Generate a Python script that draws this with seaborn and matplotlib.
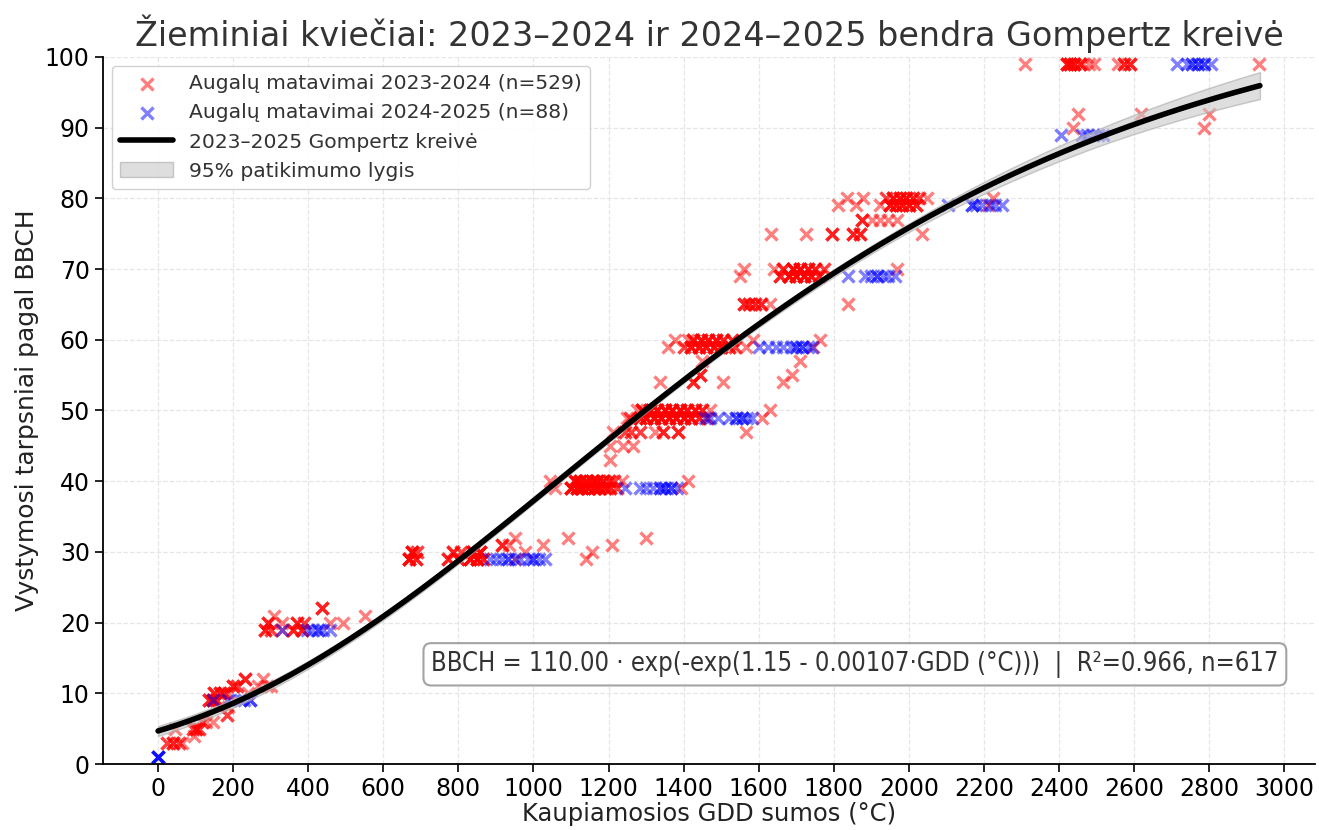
import numpy as np
import pandas as pd
import matplotlib
matplotlib.use("Agg")
import matplotlib.pyplot as plt
import seaborn as sns

# --- 2023-2024 season: GDD (°C), BBCH stage, number of plants with that reading
red_gdd = [25, 40, 55, 65, 45, 95, 92, 100, 108, 118, 128, 147, 183, 186,
           135, 145, 155, 150, 165, 175, 185, 240, 200, 210, 232, 265, 280, 290, 300,
           285, 292, 300, 308, 330, 330, 360, 370, 383, 390, 437, 458, 493, 551,
           668, 676, 686, 690, 772, 785, 798, 808, 832, 840, 850, 858, 865,
           915, 935, 950, 952, 977, 1025, 1092, 1141, 1155, 1208, 1301,
           1043, 1058, 1100, 1110, 1115, 1125, 1130, 1140, 1145, 1155, 1160, 1170,
           1175, 1185, 1190, 1200, 1205, 1215, 1222, 1235, 1394, 1411,
           1203, 1203, 1238, 1265, 1212, 1243, 1260, 1283, 1323, 1345, 1385, 1567,
           1248, 1257, 1275, 1285, 1290, 1300, 1310, 1320, 1330, 1340, 1350, 1360,
           1370, 1380, 1390, 1400, 1410, 1420, 1430, 1440, 1450, 1461, 1469, 1608, 1629,
           1336, 1425, 1443, 1448, 1504, 1664, 1688, 1709,
           1358, 1376, 1400, 1411, 1420, 1425, 1440, 1445, 1460, 1465, 1480, 1485,
           1500, 1505, 1520, 1530, 1536, 1567, 1584, 1744, 1762,
           1562, 1575, 1590, 1605, 1630, 1837,
           1550, 1562, 1640, 1656, 1665, 1680, 1690, 1700, 1710, 1720, 1730, 1740,
           1750, 1760, 1775, 1967,
           1633, 1727, 1794, 1850, 1870, 1874, 1903, 1922, 1945, 1967, 1810, 1834,
           1860, 1877, 1922, 1940, 1950, 1958, 1965, 1975, 1982, 1992, 2000, 2010,
           2020, 2028, 2047, 2036, 2210, 2223,
           2308, 2420, 2430, 2440, 2455, 2465, 2480, 2494, 2556, 2574, 2588, 2933,
           2450, 2437, 2618, 2800, 2785]
red_bbch = [3, 3, 3, 3, 5, 4, 5, 5, 5, 6, 6, 6, 7, 8,
            9, 9, 9, 10, 10, 10, 10, 10, 11, 11, 12, 11, 12, 11, 11,
            19, 20, 19, 21, 20, 19, 19, 20, 19, 20, 22, 20, 20, 21,
            29, 30, 29, 30, 29, 30, 29, 30, 29, 30, 29, 30, 29,
            31, 31, 32, 29, 30, 31, 32, 29, 30, 31, 32,
            40, 39, 39, 40, 39, 40, 39, 40, 39, 40, 39, 40,
            39, 40, 39, 40, 39, 40, 39, 40, 39, 40,
            43, 45, 45, 45, 47, 47, 47, 47, 47, 47, 47, 47,
            49, 49, 50, 49, 50, 49, 50, 49, 50, 49, 50, 49,
            50, 49, 50, 49, 50, 49, 50, 49, 50, 49, 50, 49, 50,
            54, 54, 55, 57, 54, 54, 55, 57,
            59, 60, 59, 60, 59, 60, 59, 60, 59, 60, 59, 60,
            59, 60, 59, 60, 59, 59, 60, 59, 60,
            65, 65, 65, 65, 65, 65,
            69, 70, 70, 69, 70, 69, 70, 69, 70, 69, 70, 69,
            70, 69, 70, 70,
            75, 75, 75, 75, 75, 77, 77, 77, 77, 77, 79, 80,
            79, 80, 79, 80, 79, 80, 79, 80, 79, 80, 79, 80,
            79, 80, 80, 75, 79, 80,
            99, 99, 99, 99, 99, 99, 99, 99, 99, 99, 99, 99,
            92, 90, 92, 92, 90]
red_n = [2, 3, 2, 1, 1, 1, 2, 3, 2, 2, 1, 1, 2, 1,
         3, 4, 3, 3, 3, 3, 1, 1, 3, 2, 3, 1, 1, 1, 1,
         3, 3, 2, 1, 1, 1, 3, 3, 3, 2, 3, 1, 1, 1,
         5, 5, 3, 2, 3, 3, 3, 2, 5, 5, 6, 5, 3,
         3, 1, 1, 1, 1, 1, 1, 1, 1, 1, 1,
         1, 1, 5, 5, 5, 5, 5, 5, 5, 5, 5, 5,
         5, 4, 4, 3, 3, 2, 2, 1, 1, 1,
         1, 1, 1, 1, 1, 2, 2, 2, 1, 3, 3, 1,
         1, 2, 1, 4, 5, 5, 5, 5, 5, 5, 5, 5,
         5, 5, 5, 5, 4, 4, 4, 3, 3, 2, 1, 1, 1,
         1, 3, 3, 1, 1, 1, 1, 1,
         1, 1, 2, 1, 4, 4, 4, 4, 4, 4, 4, 4,
         4, 3, 3, 3, 2, 1, 1, 1, 1,
         3, 3, 3, 3, 1, 1,
         1, 1, 1, 3, 3, 5, 5, 5, 5, 5, 4, 4,
         3, 3, 2, 1,
         1, 1, 3, 3, 3, 3, 1, 1, 1, 1, 1, 1,
         1, 1, 1, 2, 4, 4, 4, 4, 4, 4, 4, 3,
         3, 2, 1, 1, 1, 1,
         1, 4, 4, 4, 3, 1, 1, 1, 1, 3, 3, 1,
         1, 1, 1, 1, 1]

# --- 2024-2025 season
blue_gdd = [0, 147, 186, 218, 230, 245,
            330, 397, 410, 425, 440, 458,
            883, 900, 915, 932, 950, 963, 985, 1000, 1015, 1030,
            1243, 1283, 1300, 1318, 1336, 1350, 1365, 1381,
            1456, 1470, 1491, 1522, 1540, 1555, 1570, 1581,
            1602, 1625, 1645, 1665, 1685, 1700, 1715, 1730, 1741,
            1837, 1882, 1900, 1915, 1930, 1945, 1962,
            2103, 2167, 2180, 2195, 2215, 2230, 2247,
            2405, 2460, 2475, 2490, 2505, 2517,
            2715, 2742, 2755, 2770, 2785, 2805]
blue_bbch = [1, 9, 9, 9, 9, 9,
             19, 19, 19, 19, 19, 19,
             29, 29, 29, 29, 29, 29, 29, 29, 29, 29,
             39, 39, 39, 39, 39, 39, 39, 39,
             49, 49, 49, 49, 49, 49, 49, 49,
             59, 59, 59, 59, 59, 59, 59, 59, 59,
             69, 69, 69, 69, 69, 69, 69,
             79, 79, 79, 79, 79, 79, 79,
             89, 89, 89, 89, 89, 89,
             99, 99, 99, 99, 99, 99]
blue_n = [4, 1, 1, 1, 1, 2,
          1, 1, 1, 2, 1, 1,
          1, 1, 1, 2, 1, 1, 1, 2, 1, 1,
          1, 1, 1, 1, 2, 2, 2, 1,
          1, 1, 1, 1, 2, 2, 1, 1,
          1, 1, 1, 1, 1, 2, 2, 1, 1,
          1, 1, 1, 2, 1, 1, 1,
          1, 2, 1, 1, 1, 1, 1,
          1, 1, 1, 1, 1, 1,
          1, 1, 2, 2, 2, 1]

# --- fitted Gompertz model and its 95% band half-width at a few GDD nodes
gomp_a, gomp_b, gomp_c = 110.00, 1.15, 0.00107
gdd_max = 2935
band_gdd = [0, 500, 1000, 1500, 2000, 2500, 2935]
band_half = [0.7, 0.5, 0.4, 0.4, 0.6, 1.2, 1.9]

red_df = pd.DataFrame({"gdd": np.repeat(red_gdd, red_n),
                       "bbch": np.repeat(red_bbch, red_n)})
blue_df = pd.DataFrame({"gdd": np.repeat(blue_gdd, blue_n),
                        "bbch": np.repeat(blue_bbch, blue_n)})

x_fit = np.linspace(0, gdd_max, 400)
y_fit = gomp_a * np.exp(-np.exp(gomp_b - gomp_c * x_fit))
hw = np.interp(x_fit, band_gdd, band_half)
fit_df = pd.DataFrame({"gdd": x_fit, "bbch": y_fit})

sns.set_theme(style="ticks")
plt.rcParams["font.family"] = ["DejaVu Sans"]

fig = plt.figure(figsize=(13.19, 8.30), dpi=100)
ax = fig.add_axes([103 / 1319, 1 - 764 / 830, (1315 - 103) / 1319, (764 - 57) / 830])

ax.grid(True, linestyle="--", color="#e6e6e6", linewidth=0.9)
ax.set_axisbelow(True)

sns.scatterplot(data=red_df, x="gdd", y="bbch", marker="x", color="red",
                alpha=0.5, s=75, linewidth=2.4, ax=ax,
                label="Augalų matavimai 2023-2024 (n=529)", zorder=2)
sns.scatterplot(data=blue_df, x="gdd", y="bbch", marker="x", color="blue",
                alpha=0.5, s=75, linewidth=2.4, ax=ax,
                label="Augalų matavimai 2024-2025 (n=88)", zorder=2)
ax.fill_between(x_fit, y_fit - hw, y_fit + hw, facecolor="#c8c8c8",
                edgecolor="#a8a8a8", alpha=0.6, linewidth=1.0, zorder=3,
                label="95% patikimumo lygis")
sns.lineplot(data=fit_df, x="gdd", y="bbch", color="black", linewidth=4,
             ax=ax, label="2023–2025 Gompertz kreivė", zorder=4)

ax.set_xlim(-146.75, 3081.75)
ax.set_ylim(0, 100)
ax.set_xticks(np.arange(0, 3001, 200))
ax.set_yticks(np.arange(0, 101, 10))
ax.tick_params(axis="both", labelsize=17, length=6, width=1.2, colors="black")
ax.tick_params(axis="x", pad=3)
for side in ["top", "right"]:
    ax.spines[side].set_visible(False)
for side in ["left", "bottom"]:
    ax.spines[side].set_color("black")
    ax.spines[side].set_linewidth(1.3)

ax.set_xlabel("Kaupiamosios GDD sumos (°C)", fontsize=17.5, color="#222222",
              labelpad=1)
ax.set_ylabel("Vystymosi tarpsniai pagal BBCH", fontsize=18, color="#222222")
ax.set_title("Žieminiai kviečiai: 2023–2024 ir 2024–2025 bendra Gompertz kreivė",
             fontsize=24, color="#333333", pad=8)

handles, labels = ax.get_legend_handles_labels()
order = [labels.index(l) for l in ["Augalų matavimai 2023-2024 (n=529)",
                                   "Augalų matavimai 2024-2025 (n=88)",
                                   "2023–2025 Gompertz kreivė",
                                   "95% patikimumo lygis"]]
leg = ax.legend([handles[i] for i in order], [labels[i] for i in order],
                loc="upper left", fontsize=14.6, frameon=True, fancybox=True,
                framealpha=0.9, edgecolor="#cccccc", handlelength=2.6,
                borderaxespad=0.45)
for t in leg.get_texts():
    t.set_color("#333333")

eq = (f"BBCH = {gomp_a:.2f} · exp(-exp({gomp_b:.2f} - {gomp_c:.5f}·GDD (°C)))"
      f"  |  R²=0.966, n=617")
ax.text(0.970, 0.141, eq, transform=ax.transAxes, ha="right", va="center",
        fontsize=18.4, color="#333333", fontstretch="condensed",
        bbox=dict(boxstyle="round,pad=0.3", facecolor="white",
                  edgecolor="#999999", linewidth=1.5, alpha=0.9), zorder=5)

fig.savefig("out.png", dpi=100)
